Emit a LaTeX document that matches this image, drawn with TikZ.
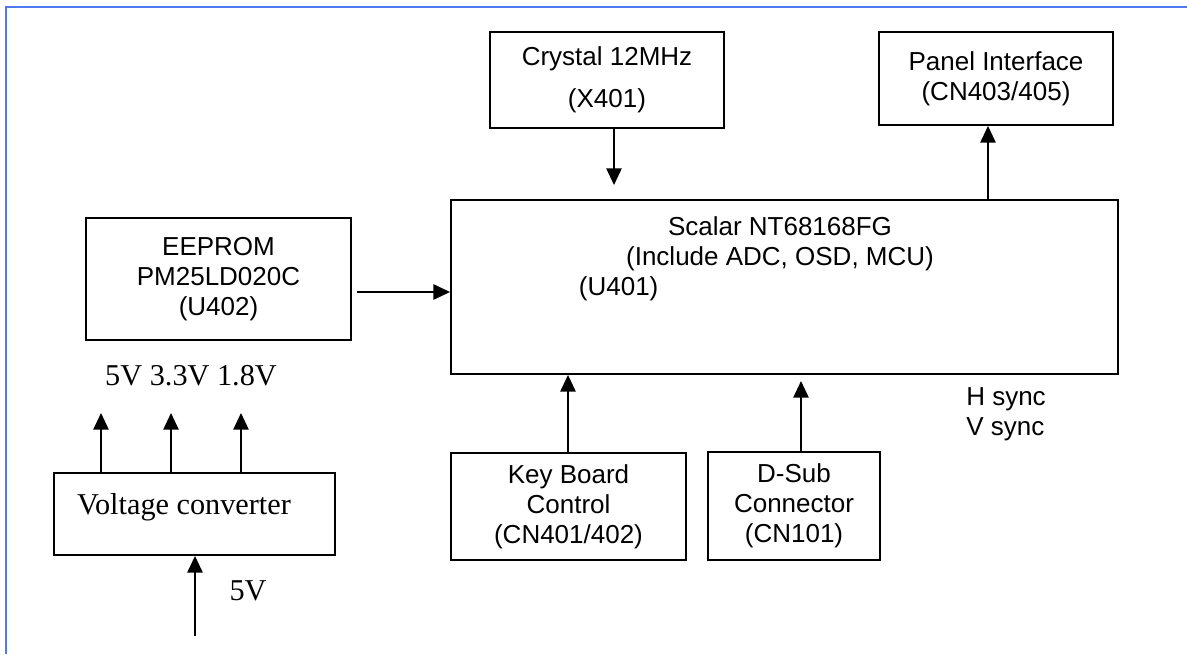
\documentclass[tikz,border=0pt]{standalone}
\usepackage{fontspec}
\setmainfont{Liberation Sans}
\newfontfamily\timesfont{Liberation Serif}
\usepackage{tikz}
\usetikzlibrary{arrows.meta,positioning}

\definecolor{framecol}{RGB}{80,120,240}

\tikzset{
  block/.style={draw,line width=1.4pt,inner sep=0pt,align=center,
                font=\fontsize{19.5}{22.5}\selectfont},
  txt/.style={inner sep=0pt,align=center,font=\fontsize{19.5}{22.5}\selectfont},
  vtxt/.style={inner sep=0pt,font=\timesfont\fontsize{22.7}{26}\selectfont},
  arr/.style={-{Triangle[length=12.5pt,width=11.5pt]},line width=1.2pt},
}

\begin{document}
\begin{tikzpicture}[x=0.75pt,y=-0.75pt]
\useasboundingbox (0,0) rectangle (1187,654);
\draw[framecol,line width=2pt] (6,654) -- (6,7) -- (1187,7);

%% blocks
\node[block,minimum width=500.25pt,minimum height=130.5pt] (scalar) at (784.5,287) {};
\node[txt] (scalartxt) at (780,259) {Scalar NT68168FG\\(Include ADC, OSD, MCU)\\(U401)\hspace*{242pt}};
\node[block,minimum width=175.5pt,minimum height=72pt] (crystal) at (607,80) {Crystal 12MHz\\[9pt](X401)};
\node[block,minimum width=175.5pt,minimum height=69.75pt] (panel) at (996,78.5) {Panel Interface\\(CN403/405)};
\node[block,minimum width=198.75pt,minimum height=91.5pt] (eeprom) at (218.5,279) {EEPROM\\PM25LD020C\\(U402)};
\node[block,minimum width=176.25pt,minimum height=80.25pt] (key) at (568.5,506.5) {Key Board\\Control\\(CN401/402)};
\node[block,minimum width=129pt,minimum height=81pt] (dsub) at (794,506) {D-Sub\\Connector\\(CN101)};
\node[block,minimum width=210.75pt,minimum height=61.5pt] (volt) at (194.5,514) {};
\node[vtxt] (volttxt) at (184,507) {Voltage converter};

%% labels
\node[vtxt] (rails) at (191,376) {5V 3.3V 1.8V};
\node[vtxt] (vin) at (248,591) {5V};
\node[txt,align=left] (sync) at (1006,414) {H sync\\V sync};

%% connectors
\coordinate (xtalin) at (614,185);
\coordinate (panelout) at (988,0);
\coordinate (eeout) at (357,292);
\coordinate (keyup) at (568,0);
\coordinate (dsubin) at (801,381);
\coordinate (src) at (195,636);

\draw[arr] (crystal.south -| xtalin) -- (xtalin);
\draw[arr] (scalar.north -| panelout) -- (panel.south -| panelout);
\draw[arr] (eeout) -- (scalar.west |- eeout);
\draw[arr] (key.north -| keyup) -- (scalar.south -| keyup);
\draw[arr] (dsub.north -| dsubin) -- (dsubin);
\draw[arr] (src) -- (volt.south -| src);
\foreach \x in {101,171,241}
  \draw[arr] (volt.north -| \x,0) -- (\x,413);
\end{tikzpicture}
\end{document}
